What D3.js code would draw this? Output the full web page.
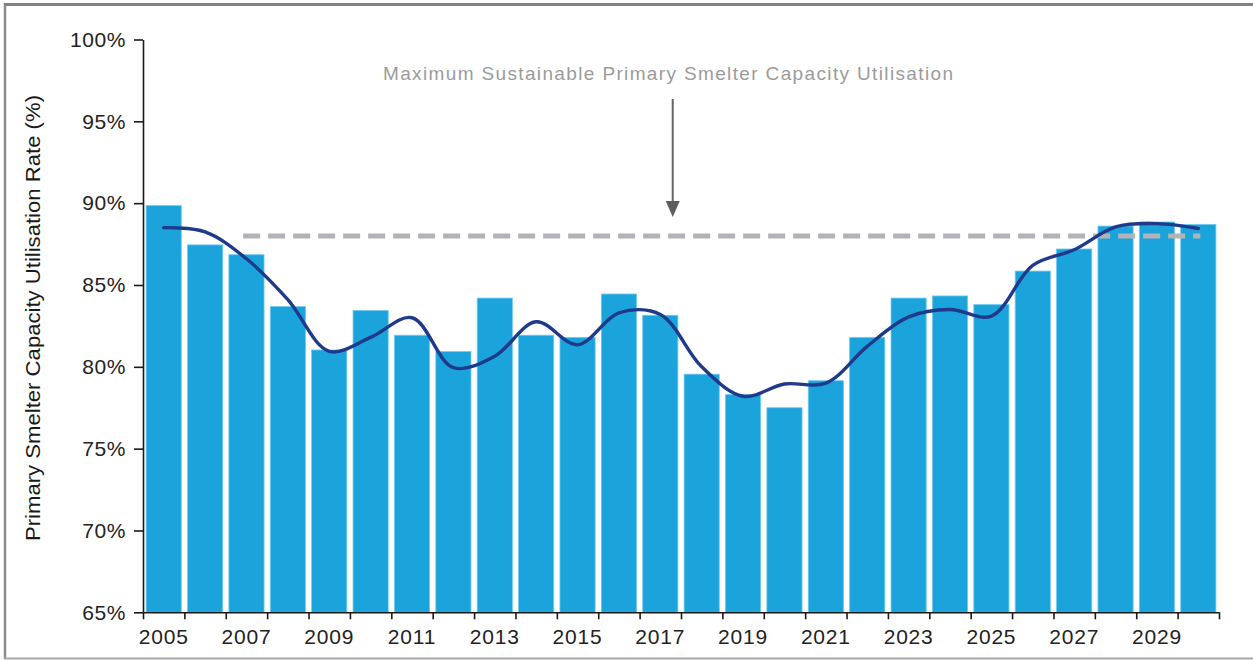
<!DOCTYPE html>
<html>
<head>
<meta charset="utf-8">
<script src="https://cdn.jsdelivr.net/npm/d3@7"></script>
<style>
  html, body { margin: 0; padding: 0; background: #fff; }
  svg { display: block; font-family: "Liberation Sans", Arial, sans-serif; }
</style>
</head>
<body>
<svg id="chart" width="1253" height="660"></svg>
<script>
// Years shown on the x axis (one bar each)
const years = d3.range(2005, 2031);
// Primary smelter capacity utilisation rate, % (bars)
const utilisation = [89.85, 87.45, 86.85, 83.68, 81.03, 83.44, 81.93, 80.93, 84.2, 81.93,
                     81.8, 84.45, 83.15, 79.55, 78.3, 77.5, 79.15, 81.8, 84.2, 84.33,
                     83.8, 85.85, 87.2, 88.6, 88.85, 88.7];
// Smoothed trend of the utilisation rate, %
const trend = [88.5, 88.25, 86.6, 84.1, 80.95, 81.8, 83.0, 79.95, 80.65, 82.75,
               81.35, 83.3, 83.2, 80.0, 78.2, 78.95, 79.0, 81.25, 83.05, 83.5,
               83.1, 86.2, 87.15, 88.55, 88.75, 88.45];
// Maximum sustainable utilisation level, % and the span it is drawn over (years)
const maxSustainable = 88;
const maxSustainableSpan = [2007.42, 2030.55];
// Y axis tick values, %
const yTicks = [65, 70, 75, 80, 85, 90, 95, 100];
// Years that carry an x axis label
const xLabelYears = years.filter(y => y % 2 === 1);
const annotationText = "Maximum Sustainable Primary Smelter Capacity Utilisation";
const yTitle = "Primary Smelter Capacity Utilisation Rate (%)";

const svg = d3.select("#chart");
const W = 1253, H = 660;
const plot = { left: 143, right: 1219, top: 39.5, bottom: 612.3 };

// Frame
svg.append("line").attr("x1", 5).attr("x2", 5).attr("y1", 3).attr("y2", 659)
  .attr("stroke", "#8c8c8c").attr("stroke-width", 2.5);
svg.append("line").attr("x1", 4).attr("x2", W).attr("y1", 4.5).attr("y2", 4.5)
  .attr("stroke", "#828282").attr("stroke-width", 3);
svg.append("line").attr("x1", 4).attr("x2", W).attr("y1", 658.5).attr("y2", 658.5)
  .attr("stroke", "#a8a8a8").attr("stroke-width", 2);

// Scales
const x = d3.scaleBand().domain(years).range([plot.left, plot.right]).padding(0);
const xYear = d3.scaleLinear().domain([2005, 2031]).range([plot.left, plot.right]);
const y = d3.scaleLinear().domain([65, 100]).range([plot.bottom, plot.top]);

// Bars
const barW = x.bandwidth() * 0.85;
svg.append("g").selectAll("rect").data(years).join("rect")
  .attr("x", d => x(d) + (x.bandwidth() - barW) / 2)
  .attr("width", barW)
  .attr("y", (d, i) => y(utilisation[i]))
  .attr("height", (d, i) => y(65) - y(utilisation[i]))
  .attr("fill", "#1ba3dc")
  .attr("stroke", "#6fcbf1")
  .attr("stroke-width", 0.8);

// Maximum sustainable level (dashed)
svg.append("line")
  .attr("x1", xYear(maxSustainableSpan[0])).attr("x2", xYear(maxSustainableSpan[1]))
  .attr("y1", y(maxSustainable)).attr("y2", y(maxSustainable))
  .attr("stroke", "#b3b3b7").attr("stroke-width", 5)
  .attr("stroke-dasharray", "17 8");

// Trend curve
const line = d3.line()
  .x((d, i) => x(years[i]) + x.bandwidth() / 2)
  .y(d => y(d))
  .curve(d3.curveCatmullRom.alpha(0.5));
svg.append("path").datum(trend)
  .attr("d", line)
  .attr("fill", "none")
  .attr("stroke", "#1f3a8a")
  .attr("stroke-width", 3.4)
  .attr("stroke-linecap", "round");

// Y axis
const yAxis = svg.append("g").attr("transform", `translate(${plot.left},0)`)
  .call(d3.axisLeft(y).tickValues(yTicks).tickFormat(d => d + "%").tickSize(9).tickSizeOuter(0).tickPadding(8));
yAxis.select(".domain").attr("stroke", "#1a1a1a").attr("stroke-width", 1.6);
yAxis.selectAll(".tick line").attr("stroke", "#1a1a1a").attr("stroke-width", 1.6);
yAxis.selectAll(".tick text").attr("font-size", 21).attr("fill", "#222")
  .attr("letter-spacing", 0.6)
  .attr("font-family", "Liberation Sans, Arial, sans-serif");

// X axis: ticks on year boundaries
const xAxisTicks = svg.append("g").attr("transform", `translate(0,${plot.bottom})`)
  .call(d3.axisBottom(xYear).tickValues(d3.range(2005, 2032)).tickFormat("").tickSize(7).tickSizeOuter(0));
xAxisTicks.select(".domain").attr("stroke", "#1a1a1a").attr("stroke-width", 1.6);
xAxisTicks.selectAll(".tick line").attr("stroke", "#1a1a1a").attr("stroke-width", 1.6);

// X axis: labels centred under bars
const xAxisLabels = svg.append("g").attr("transform", `translate(0,${plot.bottom})`)
  .call(d3.axisBottom(x).tickValues(xLabelYears).tickSize(0).tickPadding(17));
xAxisLabels.select(".domain").remove();
xAxisLabels.selectAll(".tick text").attr("font-size", 21).attr("fill", "#222")
  .attr("letter-spacing", 0.8)
  .attr("font-family", "Liberation Sans, Arial, sans-serif");

// Y axis title
svg.append("text")
  .attr("transform", `translate(40,318) rotate(-90)`)
  .attr("text-anchor", "middle")
  .attr("font-size", 19.5)
  .attr("fill", "#1a1a1a")
  .attr("textLength", 446)
  .attr("lengthAdjust", "spacingAndGlyphs")
  .text(yTitle);

// Annotation and arrow
svg.append("text")
  .attr("x", 668).attr("y", 80)
  .attr("text-anchor", "middle")
  .attr("font-size", 19)
  .attr("fill", "#9b9b9b")
  .attr("textLength", 570)
  .attr("lengthAdjust", "spacing")
  .text(annotationText);

const arrowX = xYear(2017.8);
svg.append("line").attr("x1", arrowX).attr("x2", arrowX).attr("y1", 99).attr("y2", 203)
  .attr("stroke", "#666").attr("stroke-width", 2);
svg.append("path")
  .attr("d", `M${arrowX - 7},201 L${arrowX + 7},201 L${arrowX},217 Z`)
  .attr("fill", "#5e5e5e");
</script>
</body>
</html>
